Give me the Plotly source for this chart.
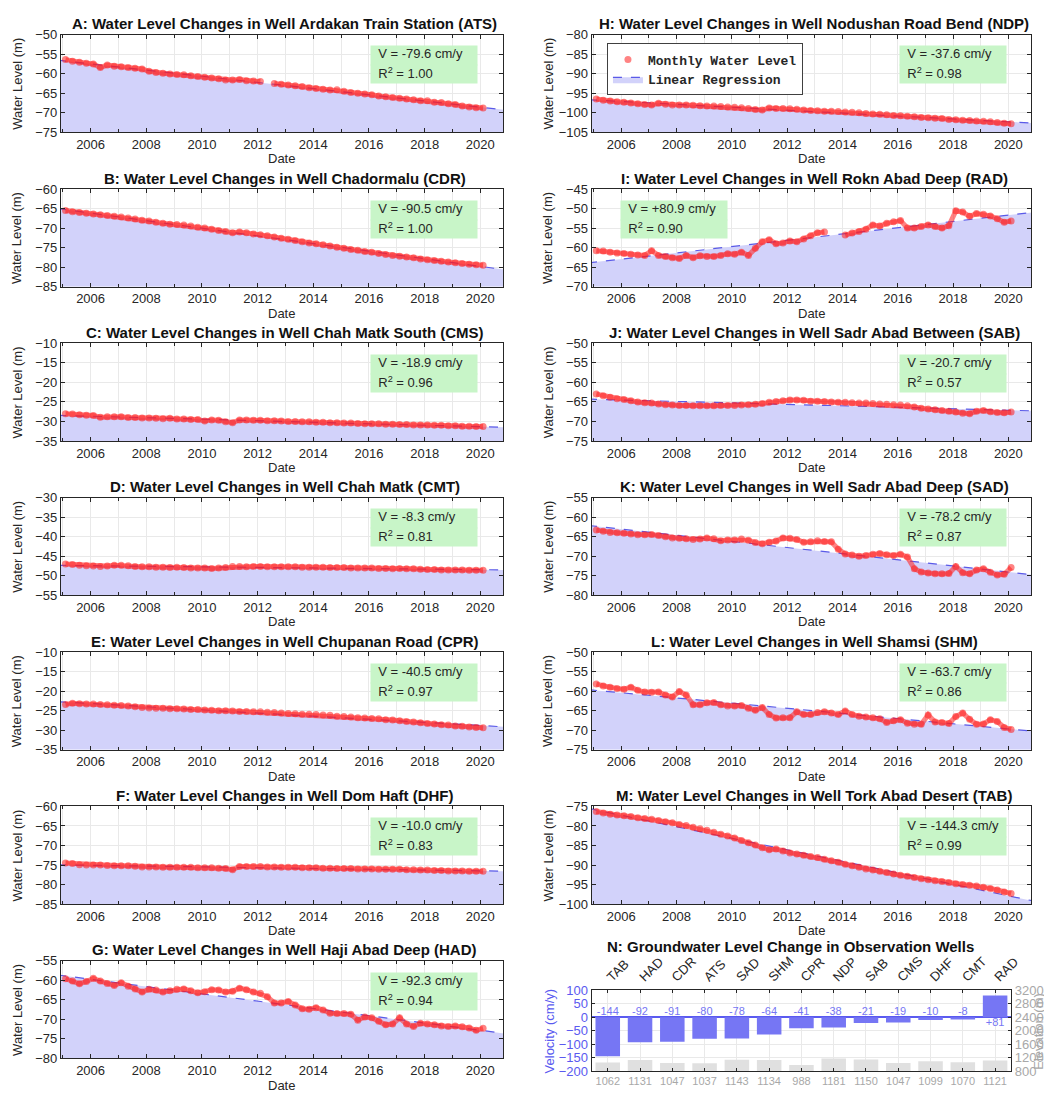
import numpy as np
import plotly.graph_objects as go

W, H = 1044, 1098
FONT = "Liberation Sans"
MONO = "Liberation Mono"
INK = "#262626"
GRID = "#e9e9e9"
FILL = "#d2d2fa"
REG = "#5a5ae8"
DOT = "rgba(255,30,30,0.55)"
BOXBG = "#c8f5c8"
BLUE = "#7676f4"
BLUE_TXT = "#5a5af0"
GREY_TXT = "#a8a8a8"

# quarterly sampling of the monthly record (first sample Feb 2005, last Feb 2020)
SAMPLE_START = 2005.1
N_SAMPLES = 61
dates = [SAMPLE_START + 0.25 * i for i in range(N_SAMPLES)]

# ---- water level series (m), one row per year: 2005 ... 2019, then 2020 ----
ATS = [-56.4, -56.8, -57.1, -57.3,
       -57.5, -58.4, -57.8, -58.1,
       -58.2, -58.4, -58.6, -58.8,
       -59.4, -59.7, -59.9, -60.1,
       -60.2, -60.3, -60.5, -60.7,
       -60.9, -61.1, -61.3, -61.6,
       -61.6, -61.5, -61.8, -61.9,
       -62.0, None, -62.5, -62.7,
       -62.9, -63.1, -63.3, -63.6,
       -63.8, -64.0, -64.2, -64.1,
       -64.5, -64.8, -65.0, -65.2,
       -65.4, -65.7, -65.9, -66.1,
       -66.3, -66.5, -66.7, -66.9,
       -66.9, -67.3, -67.4, -67.7,
       -67.9, -68.3, -68.5, -68.7,
       -68.8]
CDR = [-65.5, -65.8, -66.0, -66.2,
       -66.4, -66.6, -66.8, -67.0,
       -67.2, -67.4, -67.7, -68.0,
       -68.2, -68.5, -68.8, -69.0,
       -69.1, -69.2, -69.5, -69.8,
       -70.0, -70.3, -70.6, -70.9,
       -71.2, -71.0, -71.2, -71.5,
       -71.7, -72.0, -72.3, -72.6,
       -72.9, -73.2, -73.5, -73.8,
       -74.0, -74.3, -74.6, -74.9,
       -75.2, -75.5, -75.7, -76.0,
       -76.2, -76.5, -76.8, -77.0,
       -77.2, -77.4, -77.6, -77.9,
       -78.1, -78.3, -78.5, -78.7,
       -78.9, -79.1, -79.3, -79.4,
       -79.5]
CMS = [-28.0, -28.1, -28.3, -28.4,
       -28.5, -28.9, -28.8, -28.8,
       -28.8, -29.0, -29.0, -29.1,
       -29.1, -29.2, -29.3, -29.2,
       -29.4, -29.4, -29.5, -29.5,
       -29.9, -29.6, -29.7, -30.1,
       -30.3, -29.6, -29.6, -29.7,
       -29.7, -29.8, -29.8, -29.9,
       -30.0, -30.0, -30.1, -30.1,
       -30.2, -30.2, -30.3, -30.3,
       -30.4, -30.4, -30.5, -30.6,
       -30.6, -30.6, -30.7, -30.7,
       -30.8, -30.8, -30.9, -30.9,
       -30.9, -31.0, -31.0, -31.1,
       -31.1, -31.2, -31.2, -31.3,
       -31.3]
CMT = [-47.0, -47.1, -47.3, -47.4,
       -47.5, -47.6, -47.5, -47.3,
       -47.3, -47.4, -47.6, -47.7,
       -47.7, -47.8, -47.8, -47.9,
       -47.8, -47.9, -48.0, -48.0,
       -48.0, -48.1, -48.0, -47.9,
       -47.6, -47.6, -47.7, -47.6,
       -47.6, -47.7, -47.7, -47.7,
       -47.7, -47.7, -47.8, -47.8,
       -47.8, -47.8, -47.9, -47.9,
       -47.9, -48.0, -48.0, -48.0,
       -48.0, -48.1, -48.1, -48.2,
       -48.1, -48.2, -48.2, -48.3,
       -48.4, -48.4, -48.5, -48.5,
       -48.5, -48.5, -48.6, -48.6,
       -48.6]
CPR = [-23.4, -23.1, -23.2, -23.3,
       -23.3, -23.4, -23.5, -23.6,
       -23.7, -23.8, -24.0, -24.2,
       -24.3, -24.4, -24.4, -24.5,
       -24.5, -24.6, -24.7, -24.7,
       -24.8, -24.9, -25.0, -25.0,
       -25.1, -25.2, -25.2, -25.3,
       -25.3, -25.4, -25.5, -25.6,
       -25.7, -25.8, -25.9, -25.9,
       -26.0, -26.1, -26.2, -26.4,
       -26.5, -26.6, -26.8, -26.9,
       -27.0, -27.1, -27.3, -27.4,
       -27.6, -27.8, -27.9, -28.1,
       -28.3, -28.4, -28.6, -28.7,
       -28.9, -29.0, -29.2, -29.3,
       -29.4]
DHF = [-74.5, -74.6, -74.9, -75.0,
       -75.0, -75.0, -75.1, -75.2,
       -75.2, -75.2, -75.3, -75.5,
       -75.5, -75.5, -75.6, -75.6,
       -75.6, -75.6, -75.6, -75.7,
       -75.7, -75.7, -75.8, -75.9,
       -76.2, -75.4, -75.4, -75.4,
       -75.4, -75.5, -75.5, -75.6,
       -75.6, -75.6, -75.7, -75.7,
       -75.7, -75.8, -75.8, -75.9,
       -75.9, -75.9, -76.0, -76.0,
       -76.0, -76.1, -76.1, -76.1,
       -76.1, -76.2, -76.2, -76.3,
       -76.3, -76.4, -76.4, -76.5,
       -76.5, -76.5, -76.6, -76.6,
       -76.6]
HAD = [-59.6, -60.2, -60.9, -60.3,
       -59.5, -60.2, -60.8, -61.3,
       -60.6, -61.5, -62.2, -63.0,
       -62.3, -62.5, -63.0, -62.7,
       -62.3, -62.2, -62.7, -63.2,
       -62.9, -62.4, -62.5, -63.0,
       -62.8, -62.0, -62.4, -63.0,
       -63.3, -64.2, -65.8, -65.8,
       -65.4, -66.3, -67.3, -67.4,
       -67.0, -67.6, -68.4, -68.5,
       -68.5, -68.7, -70.2, -69.4,
       -69.6, -70.5, -71.4, -71.2,
       -69.6, -71.2, -71.8, -71.0,
       -71.2, -71.4, -71.7, -71.8,
       -71.7, -71.9, -72.2, -72.8,
       -72.3]
NDP = [-96.5, -96.8, -97.0, -97.2,
       -97.3, -97.5, -97.7, -97.9,
       -98.0, -97.6, -97.8, -98.0,
       -98.0, -98.0, -98.1, -98.2,
       -98.3, -98.3, -98.4, -98.5,
       -98.6, -98.7, -98.9, -99.2,
       -99.3, -98.8, -98.9, -98.9,
       -99.0, -99.1, -99.3, -99.4,
       -99.5, -99.6, -99.6, -99.7,
       -99.8, -99.9, -100.0, -100.2,
       -100.3, -100.4, -100.5, -100.7,
       -100.8, -100.9, -101.0, -101.2,
       -101.3, -101.4, -101.5, -101.7,
       -101.8, -101.9, -102.0, -102.1,
       -102.2, -102.3, -102.5, -102.7,
       -102.8]
RAD = [-60.8, -60.9, -61.2, -61.4,
       -61.5, -61.7, -61.9, -62.0,
       -60.8, -62.0, -62.3, -62.6,
       -62.8, -62.0, -62.6, -62.1,
       -62.3, -62.3, -62.0, -61.6,
       -61.7, -61.2, -62.0, -60.2,
       -58.5, -58.0, -59.0, -58.8,
       -58.3, -58.5, -57.8, -57.0,
       -56.2, -56.0, None, None,
       -56.8, -56.3, -55.9, -55.3,
       -54.2, -54.5, -53.8, -53.4,
       -53.1, -55.0, -55.0, -54.6,
       -54.2, -54.6, -55.0, -54.4,
       -50.6, -50.9, -52.0, -51.3,
       -51.5, -51.9, -52.6, -53.5,
       -53.2]
SAB = [-63.0, -63.4, -63.8, -64.2,
       -64.4, -64.7, -65.0, -65.2,
       -65.3, -65.5, -65.7, -65.8,
       -65.9, -65.9, -66.0, -66.0,
       -66.0, -66.0, -65.9, -65.9,
       -65.9, -65.8, -65.7, -65.6,
       -65.4, -65.1, -64.9, -64.7,
       -64.5, -64.5, -64.6, -64.8,
       -64.8, -64.9, -65.0, -65.1,
       -65.1, -65.2, -65.3, -65.3,
       -65.4, -65.5, -65.6, -65.7,
       -65.8, -66.0, -66.3, -66.6,
       -66.8, -67.0, -67.2, -67.4,
       -67.6, -67.9, -68.0, -67.4,
       -67.2, -67.5, -67.7, -67.8,
       -67.6]
SAD = [-63.3, -63.6, -63.9, -64.0,
       -64.1, -64.3, -64.5, -64.5,
       -64.4, -64.7, -65.0, -65.3,
       -65.4, -65.5, -65.7, -65.6,
       -65.3, -65.5, -66.0, -65.8,
       -65.8, -65.6, -65.9, -66.5,
       -66.8, -66.4, -66.1, -65.3,
       -65.4, -65.7, -66.4, -66.3,
       -66.0, -66.2, -66.3, -68.2,
       -69.4, -69.7, -70.0, -69.8,
       -69.5, -69.3, -69.6, -69.8,
       -69.5, -70.2, -73.2, -74.0,
       -74.3, -74.5, -74.5, -74.4,
       -72.6, -74.2, -74.5, -73.5,
       -73.2, -74.1, -74.8, -74.6,
       -72.9]
SHM = [-58.2, -58.7, -59.0, -59.3,
       -59.5, -59.0, -59.8, -60.2,
       -60.3, -60.2, -61.0, -61.5,
       -60.1, -61.0, -63.5, -63.5,
       -63.0, -62.9, -63.5, -63.8,
       -63.8, -63.7, -64.4, -64.9,
       -64.2, -66.0, -66.9, -66.8,
       -66.8, -65.3, -66.0, -66.0,
       -65.5, -65.3, -65.6, -66.0,
       -65.1, -66.0, -66.4, -66.6,
       -66.8, -67.1, -68.0, -67.6,
       -67.3, -68.2, -68.5, -68.5,
       -66.1, -67.9, -68.0, -68.3,
       -66.5, -65.6, -67.2, -68.5,
       -68.4, -67.3, -67.8, -69.3,
       -69.8]
TAB = [-76.3, -76.7, -77.0, -77.2,
       -77.4, -77.6, -77.9, -78.1,
       -78.3, -78.6, -78.9, -79.2,
       -79.6, -79.9, -80.3, -80.7,
       -81.1, -81.6, -82.1, -82.6,
       -83.1, -83.7, -84.3, -84.9,
       -85.6, -86.1, -85.9, -86.4,
       -86.9, -87.2, -87.5, -87.8,
       -88.1, -88.5, -88.9, -89.3,
       -89.8, -90.2, -90.6, -91.0,
       -91.3, -91.6, -91.9, -92.3,
       -92.6, -92.9, -93.2, -93.5,
       -93.8, -94.0, -94.2, -94.5,
       -94.8, -95.0, -95.2, -95.4,
       -95.7, -96.0, -96.4, -96.9,
       -97.3]

# ---- panel metadata ----
letters = ["A", "B", "C", "D", "E", "F", "G", "H", "I", "J", "K", "L", "M"]
well_names = ["Ardakan Train Station", "Chadormalu", "Chah Matk South", "Chah Matk",
              "Chupanan Road", "Dom Haft", "Haji Abad Deep", "Nodushan Road Bend",
              "Rokn Abad Deep", "Sadr Abad Between", "Sadr Abad Deep", "Shamsi",
              "Tork Abad Desert"]
codes = ["ATS", "CDR", "CMS", "CMT", "CPR", "DHF", "HAD", "NDP", "RAD", "SAB", "SAD", "SHM", "TAB"]
series = [ATS, CDR, CMS, CMT, CPR, DHF, HAD, NDP, RAD, SAB, SAD, SHM, TAB]
velocity = [-79.6, -90.5, -18.9, -8.3, -40.5, -10.0, -92.3, -37.6, 80.9, -20.7, -78.2, -63.7, -144.3]
r_squared = [1.00, 1.00, 0.96, 0.81, 0.97, 0.83, 0.94, 0.98, 0.90, 0.57, 0.87, 0.86, 0.99]
y_limits = [(-75, -50), (-85, -60), (-35, -10), (-55, -30), (-35, -10), (-85, -60), (-80, -55),
            (-105, -80), (-70, -45), (-75, -50), (-80, -55), (-75, -50), (-100, -75)]

# ---- panel N data ----
n_codes = ["TAB", "HAD", "CDR", "ATS", "SAD", "SHM", "CPR", "NDP", "SAB", "CMS", "DHF", "CMT", "RAD"]
n_velocity = [-144.3, -92.3, -90.5, -79.6, -78.2, -63.7, -40.5, -37.6, -20.7, -18.9, -10.0, -8.3, 80.9]
n_elevation = [1062, 1131, 1047, 1037, 1143, 1134, 988, 1181, 1150, 1047, 1099, 1070, 1121]

for s in series:
    assert len(s) == N_SAMPLES, len(s)

# ---- layout geometry (pixels) ----
TOP0, PITCH, PH = 28.0, 156.5, 99.0
COLS = [(61.5, 509.0), (598.5, 1043.0)]
XR = [2004.93, 2020.82]


def px(x):
    return x / W


def py(y):
    return 1 - y / H


fig = go.Figure()
annotations = []
layout_axes = {}
tick_years = list(range(2006, 2021, 2))


def axis_font(size=13, color=INK):
    return dict(family=FONT, size=size, color=color)


def v_text(v):
    return f"V = {v:+.1f} cm/y" if v > 0 else f"V = {v:.1f} cm/y"


TITLE_FONT = dict(family=FONT, size=15, color="#111111")

for i in range(13):
    col = 0 if i < 7 else 1
    row = i if i < 7 else i - 7
    k = i + 1
    xn = "x" if k == 1 else f"x{k}"
    yn = "y" if k == 1 else f"y{k}"
    xkey = "xaxis" if k == 1 else f"xaxis{k}"
    ykey = "yaxis" if k == 1 else f"yaxis{k}"
    top = TOP0 + PITCH * row
    bot = top + PH
    xl, xr = COLS[col]
    lo, hi = y_limits[i]
    vals = series[i]

    xs = [d for d, v in zip(dates, vals) if v is not None]
    ys = [v for v in vals if v is not None]
    slope, icpt = np.polyfit(xs, ys, 1)
    reg_x = [2004.8, 2021.2]
    reg_y = [slope * x + icpt for x in reg_x]

    fig.add_trace(go.Scatter(x=reg_x, y=[lo, lo], mode="lines", line=dict(width=0),
                             showlegend=False, hoverinfo="skip", xaxis=xn, yaxis=yn))
    fig.add_trace(go.Scatter(x=reg_x, y=reg_y, mode="lines", fill="tonexty", fillcolor=FILL,
                             line=dict(color=REG, width=1.2, dash="dash"),
                             name="Linear Regression", showlegend=(i == 0), legendrank=2,
                             xaxis=xn, yaxis=yn))
    fig.add_trace(go.Scatter(x=dates, y=vals, mode="lines", line=dict(color=DOT, width=5),
                             showlegend=False, hoverinfo="skip", xaxis=xn, yaxis=yn))
    fig.add_trace(go.Scatter(x=dates, y=vals, mode="markers",
                             marker=dict(color=DOT, size=7, line=dict(width=0)),
                             name="Monthly Water Level", showlegend=(i == 0), legendrank=1,
                             xaxis=xn, yaxis=yn))

    layout_axes[xkey] = dict(
        domain=[px(xl), px(xr)], anchor=yn, range=XR,
        tickvals=tick_years, ticktext=[str(t) for t in tick_years],
        ticks="inside", ticklen=4, tickcolor=INK, showline=True, linecolor=INK, linewidth=1,
        mirror="ticks", showgrid=True, gridcolor=GRID, zeroline=False,
        tickfont=axis_font(),
        minor=dict(tickvals=list(range(2005, 2021)), ticks="inside", ticklen=3, tickcolor=INK,
                   showgrid=True, gridcolor=GRID),
    )
    layout_axes[ykey] = dict(
        domain=[py(bot), py(top)], anchor=xn, range=[lo, hi], dtick=5,
        ticks="inside", ticklen=4, tickcolor=INK, showline=True, linecolor=INK, linewidth=1,
        mirror="ticks", showgrid=True, gridcolor=GRID, zeroline=False,
        tickfont=axis_font(),
    )

    cx = (xl + xr) / 2
    annotations.append(dict(text=f"<b>{letters[i]}: Water Level Changes in Well {well_names[i]} ({codes[i]})</b>",
                            x=px(cx + 3), y=py(top - 11), xref="paper", yref="paper",
                            showarrow=False, font=TITLE_FONT,
                            xanchor="center", yanchor="middle"))
    annotations.append(dict(text="Date", x=px(cx), y=py(bot + 27), xref="paper", yref="paper",
                            showarrow=False, font=axis_font(13), xanchor="center", yanchor="middle"))
    annotations.append(dict(text="Water Level (m)", x=px(xl - 44), y=py((top + bot) / 2),
                            xref="paper", yref="paper", showarrow=False, textangle=-90,
                            font=axis_font(13), xanchor="center", yanchor="middle"))
    bx = 0.065 if velocity[i] > 0 else 0.70
    annotations.append(dict(text="  " + v_text(velocity[i]),
                            x=bx, y=0.89, xref=f"{xn} domain", yref=f"{yn} domain",
                            xanchor="left", yanchor="top", showarrow=False, align="left",
                            valign="top", bgcolor=BOXBG, borderpad=0, width=106, height=19,
                            font=axis_font(13)))
    annotations.append(dict(text=f"  R<sup>2</sup> = {r_squared[i]:.2f}",
                            x=bx, y=0.89, xref=f"{xn} domain", yref=f"{yn} domain",
                            xanchor="left", yanchor="top", yshift=-19, showarrow=False,
                            align="left", valign="top", bgcolor=BOXBG, borderpad=0,
                            width=106, height=18, font=axis_font(13)))

# ---- panel N ----
pos = list(range(len(n_codes)))
N_TOP, N_BOT = 997.0, 1079.0
NXL, NXR = 598.5, 1023.0

fig.add_trace(go.Bar(x=pos, y=n_elevation, marker=dict(color="#e0e0e0", line=dict(width=0)), width=0.76,
                     xaxis="x14", yaxis="y15", showlegend=False, hoverinfo="skip"))
fig.add_trace(go.Bar(x=pos, y=n_velocity, marker=dict(color=BLUE, line=dict(width=0)), width=0.76,
                     xaxis="x14", yaxis="y14", showlegend=False, hoverinfo="skip"))


def round_away(v):
    return int(np.sign(v) * np.floor(abs(v) + 0.5))


n_labels = [f"{round_away(v):+d}" for v in n_velocity]
n_label_y = [20 if v < 0 else -21 for v in n_velocity]
fig.add_trace(go.Scatter(x=pos, y=n_label_y, mode="text", text=n_labels,
                         textfont=dict(family=FONT, size=11, color=BLUE),
                         xaxis="x14", yaxis="y14", showlegend=False, hoverinfo="skip"))
fig.add_trace(go.Scatter(x=pos, y=[0] * len(pos), mode="markers", marker=dict(opacity=0),
                         xaxis="x15", yaxis="y14", showlegend=False, hoverinfo="skip"))

layout_axes["xaxis14"] = dict(domain=[px(NXL), px(NXR)], anchor="y14", range=[-0.5, len(pos) - 0.5],
                              tickvals=pos, ticktext=[str(e) for e in n_elevation],
                              tickfont=axis_font(11, GREY_TXT), ticks="inside", ticklen=3,
                              tickcolor=INK, showline=True, linecolor=INK, showgrid=True,
                              gridcolor=GRID, zeroline=False)
layout_axes["xaxis15"] = dict(overlaying="x14", side="top", anchor="y14", range=[-0.5, len(pos) - 0.5],
                              tickvals=pos, ticktext=n_codes, tickangle=-45,
                              tickfont=axis_font(13), ticks="inside", ticklen=3, tickcolor=INK,
                              showline=True, linecolor=INK, showgrid=False, zeroline=False)
layout_axes["yaxis14"] = dict(domain=[py(N_BOT), py(N_TOP)], anchor="x14", range=[-200, 100], dtick=50,
                              tickfont=axis_font(13, BLUE_TXT), ticks="inside", ticklen=3,
                              tickcolor=INK, showline=True, linecolor=INK, showgrid=True,
                              gridcolor=GRID, zeroline=True, zerolinecolor=BLUE_TXT, zerolinewidth=1.5)
layout_axes["yaxis15"] = dict(overlaying="y14", side="right", anchor="x14", range=[800, 3200], dtick=400,
                              tickfont=axis_font(13, GREY_TXT), ticks="inside", ticklen=3,
                              tickcolor=INK, showline=True, linecolor=INK, showgrid=False, zeroline=False)

annotations.append(dict(text="<b>N: Groundwater Level Change in Observation Wells</b>",
                        x=px(800), y=py(953), xref="paper", yref="paper", showarrow=False,
                        font=TITLE_FONT, xanchor="center", yanchor="middle"))
annotations.append(dict(text="Velocity (cm/y)", x=px(556), y=py((N_TOP + N_BOT) / 2),
                        xref="paper", yref="paper", showarrow=False, textangle=-90,
                        font=axis_font(13, BLUE_TXT), xanchor="center", yanchor="middle"))
annotations.append(dict(text="Elevation (m)", x=px(1051), y=py((N_TOP + N_BOT) / 2),
                        xref="paper", yref="paper", showarrow=False, textangle=-90,
                        font=axis_font(13, GREY_TXT), xanchor="center", yanchor="middle"))

fig.update_layout(
    width=W, height=H, margin=dict(l=0, r=0, t=0, b=0),
    paper_bgcolor="white", plot_bgcolor="white",
    font=dict(family=FONT, color=INK),
    barmode="overlay",
    showlegend=True,
    legend=dict(x=px(614), y=py(37), xanchor="left", yanchor="top", bgcolor="white",
                bordercolor="#404040", borderwidth=1, tracegroupgap=0,
                font=dict(family=MONO, size=13, color=INK, weight="bold"),
                traceorder="normal", itemwidth=30),
    annotations=annotations,
    **layout_axes,
)

fig.write_html("out.html")
